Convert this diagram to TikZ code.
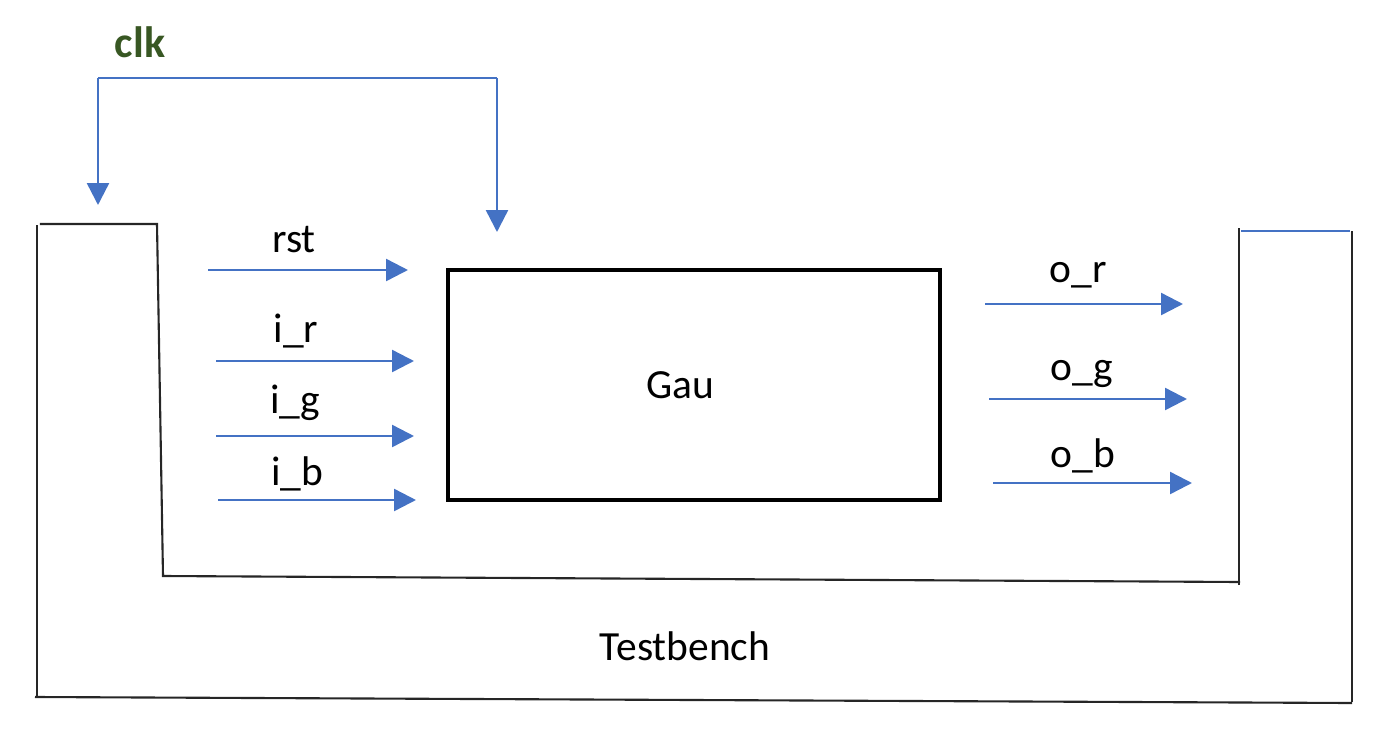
\documentclass[tikz,border=0pt]{standalone}
\usepackage{fontspec}
\setmainfont{Carlito}
\usetikzlibrary{arrows.meta}
\definecolor{sigblue}{RGB}{68,114,196}
\definecolor{clkgreen}{RGB}{56,87,35}

\begin{document}
\begin{tikzpicture}[
    font=\fontsize{11.8}{14}\selectfont,
    wall/.style={draw=black!85, line width=0.6pt},
    dut/.style={rectangle, draw, line width=0.9pt, minimum width=4.92cm, minimum height=2.30cm},
    sig/.style={anchor=base},
    arrow/.style={-{Triangle[length=2.2mm, width=2.2mm]}, draw=sigblue, line width=0.7pt},
    bus/.style={draw=sigblue, line width=0.7pt}
]
\useasboundingbox (0,0) rectangle (13.76,7.32);

% Testbench frame
\draw[wall] (0.37,0.35) -- (0.37,5.07);
\draw[wall] (0.40,5.08) -- (1.57,5.08) -- (1.63,1.56) -- (12.40,1.50);
\draw[wall] (12.39,1.47) -- (12.39,5.04);
\draw[bus] (12.41,5.01) -- (13.50,5.01);
\draw[wall] (13.52,5.01) -- (13.52,0.30);
\draw[wall] (0.35,0.35) -- (13.52,0.29);
\node[sig] (tb) at (6.85,0.72) {Testbench};

% Design under test
\node[dut, label={[xshift=-1.4mm]center:Gau}] (gau) at (6.94,3.47) {};

% Clock
\node[sig, font=\fontsize{12.5}{14}\selectfont\bfseries, text=clkgreen] (clk) at (1.40,6.75) {clk};
\coordinate (clkL) at (0.98,6.54);
\coordinate (clkR) at (4.97,6.54);
\coordinate (tbclk) at (0.98,5.27);
\coordinate (gauclk) at (4.97,5.00);
\draw[bus] (clkL) -- (clkR);
\draw[arrow] (clkL) -- (tbclk);
\draw[arrow] (clkR) -- (gauclk);

% Inputs
\coordinate (rst-a) at (2.08,4.62);  \coordinate (rst-b) at (4.08,4.62);
\coordinate (ir-a) at (2.16,3.71);   \coordinate (ir-b) at (4.14,3.71);
\coordinate (ig-a) at (2.16,2.96);   \coordinate (ig-b) at (4.14,2.96);
\coordinate (ib-a) at (2.18,2.32);   \coordinate (ib-b) at (4.16,2.32);

\draw[arrow] (rst-a) -- (rst-b);
\draw[arrow] (ir-a) -- (ir-b);
\draw[arrow] (ig-a) -- (ig-b);
\draw[arrow] (ib-a) -- (ib-b);

\node[sig] (rst) at (2.94,4.80) {rst};
\node[sig] (ir) at (2.96,3.90) {i\_r};
\node[sig] (ig) at (2.95,3.19) {i\_g};
\node[sig] (ib) at (2.97,2.47) {i\_b};

% Outputs
\coordinate (or-a) at (9.85,4.28);   \coordinate (or-b) at (11.83,4.28);
\coordinate (og-a) at (9.89,3.33);   \coordinate (og-b) at (11.87,3.33);
\coordinate (ob-a) at (9.93,2.49);   \coordinate (ob-b) at (11.92,2.49);

\draw[arrow] (or-a) -- (or-b);
\draw[arrow] (og-a) -- (og-b);
\draw[arrow] (ob-a) -- (ob-b);

\node[sig] (or) at (10.78,4.50) {o\_r};
\node[sig] (og) at (10.82,3.52) {o\_g};
\node[sig] (ob) at (10.83,2.65) {o\_b};

\end{tikzpicture}
\end{document}
